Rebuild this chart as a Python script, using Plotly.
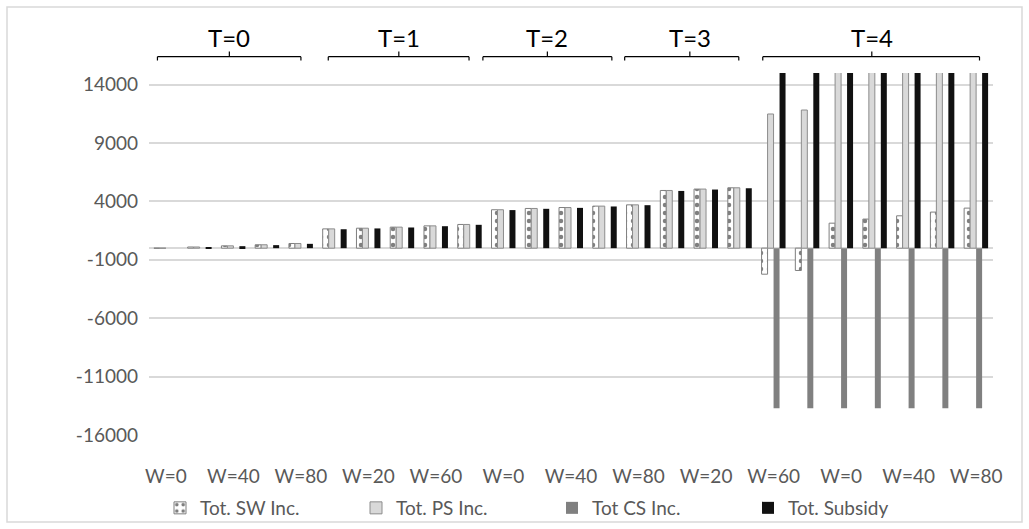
import plotly.graph_objects as go

# ---------------- data ----------------
w_labels = ["W=0", "W=20", "W=40", "W=60", "W=80"] * 5
sw_inc = [0, 100, 200, 290, 400,
          1650, 1710, 1800, 1910, 2030,
          3290, 3400, 3480, 3600, 3710,
          4940, 5060, 5170,
          -2230, -1910, 2140, 2490, 2770, 3090, 3430]
ps_inc = [0, 100, 200, 290, 400,
          1650, 1710, 1800, 1910, 2030,
          3290, 3400, 3480, 3600, 3710,
          4940, 5060, 5170,
          11490, 11830, 16200, 16600, 17000, 17400, 17800]
cs_inc = [0, 0, 0, 0, 0,
          0, 0, 0, 0, 0,
          0, 0, 0, 0, 0,
          0, 0, 0,
          -13700, -13700, -13700, -13700, -13700, -13700, -13700]
subsidy = [0, 60, 170, 260, 370,
           1620, 1690, 1770, 1880, 2000,
           3260, 3370, 3450, 3570, 3680,
           4900, 5020, 5130,
           16500, 16900, 17300, 17700, 18100, 18500, 18900]
series_names = ["Tot. SW Inc.", "Tot. PS Inc.", "Tot CS Inc.", "Tot. Subsidy"]
y_ticks = [-16000, -11000, -6000, -1000, 4000, 9000, 14000]
y_tick_text = [str(v) for v in y_ticks]
t_labels = ["T=0", "T=1", "T=2", "T=3", "T=4"]

# ---------------- layout constants ----------------
W, H = 1029, 529
L, R, T, B = 149, 993, 73, 435
x_pos = list(range(len(w_labels)))

def px_x(px):
    return (px - L) / (R - L)

def px_y(py):
    return (B - py) / (B - T)

FONT = "Lato, Carlito, Calibri, 'Open Sans', sans-serif"
GRAY_TXT = "#595959"

fig = go.Figure()
fig.add_trace(go.Bar(
    x=x_pos, y=sw_inc, name=series_names[0],
    marker=dict(color="white",
                line=dict(color="#7f7f7f", width=1),
                pattern=dict(shape=".", fgcolor="black", bgcolor="white",
                             size=8, solidity=0.25)),
))
fig.add_trace(go.Bar(
    x=x_pos, y=ps_inc, name=series_names[1],
    marker=dict(color="#d9d9d9", line=dict(color="#8c8c8c", width=1)),
))
fig.add_trace(go.Bar(
    x=x_pos, y=cs_inc, name=series_names[2],
    marker=dict(color="#808080", line=dict(width=0)),
))
fig.add_trace(go.Bar(
    x=x_pos, y=subsidy, name=series_names[3],
    marker=dict(color="#111111", line=dict(width=0)),
))

# brackets for T groups (category units: left, right, centre tick)
brackets = [(-0.25, 4.0, 1.88), (4.81, 8.98, 6.90), (9.39, 13.21, 11.30),
            (13.59, 16.97, 15.52), (17.68, 24.10, 20.91)]
shapes = []
y_line = px_y(56.7)
y_end = px_y(60.5)
y_mid = px_y(51.5)
for (a, b, c), lab in zip(brackets, t_labels):
    style = dict(type="line", xref="x", yref="paper", line=dict(color="black", width=1.2))
    shapes.append(dict(x0=a, x1=b, y0=y_line, y1=y_line, **style))
    shapes.append(dict(x0=a, x1=a, y0=y_line, y1=y_end, **style))
    shapes.append(dict(x0=b, x1=b, y0=y_line, y1=y_end, **style))
    shapes.append(dict(x0=c, x1=c, y0=y_line, y1=y_mid, **style))
    fig.add_annotation(x=c, y=px_y(37), xref="x", yref="paper", text=lab,
                       showarrow=False, font=dict(family=FONT, size=24, color="black"),
                       xanchor="center", yanchor="middle")

# outer chart border
shapes.append(dict(type="rect", xref="paper", yref="paper",
                   x0=px_x(7), x1=px_x(1022), y0=px_y(7), y1=px_y(522),
                   line=dict(color="#d9d9d9", width=1.5), fillcolor="rgba(0,0,0,0)"))

fig.update_layout(
    width=W, height=H,
    margin=dict(l=L, r=W - R, t=T, b=H - B, pad=0, autoexpand=False),
    paper_bgcolor="white", plot_bgcolor="white",
    barmode="group", bargap=0.29, bargroupgap=0,
    font=dict(family=FONT, size=19, color=GRAY_TXT),
    shapes=shapes,
    showlegend=True,
    legend=dict(orientation="h", x=px_x(160), xanchor="left",
                y=px_y(508), yanchor="middle",
                bgcolor="rgba(0,0,0,0)",
                font=dict(family=FONT, size=19, color=GRAY_TXT),
                entrywidth=151, entrywidthmode="pixels",
                itemwidth=30, traceorder="normal"),
)
fig.update_xaxes(
    range=[-0.5, len(w_labels) - 0.5],
    tickmode="array", tickvals=x_pos[::2], ticktext=w_labels[::2],
    showgrid=False, zeroline=False, showline=False, ticks="",
    ticklabelstandoff=28,
    tickfont=dict(family=FONT, size=19, color=GRAY_TXT),
)
fig.update_yaxes(
    range=[-16000, 15000],
    tickmode="array", tickvals=y_ticks, ticktext=y_tick_text,
    showgrid=True, gridcolor="#d9d9d9", gridwidth=1.5,
    zeroline=True, zerolinecolor="#d9d9d9", zerolinewidth=1.5,
    showline=False, ticks="",
    ticklabelstandoff=10,
    tickfont=dict(family=FONT, size=19, color=GRAY_TXT),
)

fig.write_html("out.html",
               config={"displayModeBar": False},
               post_script="document.body.style.margin='0';document.body.style.overflow='hidden';")
